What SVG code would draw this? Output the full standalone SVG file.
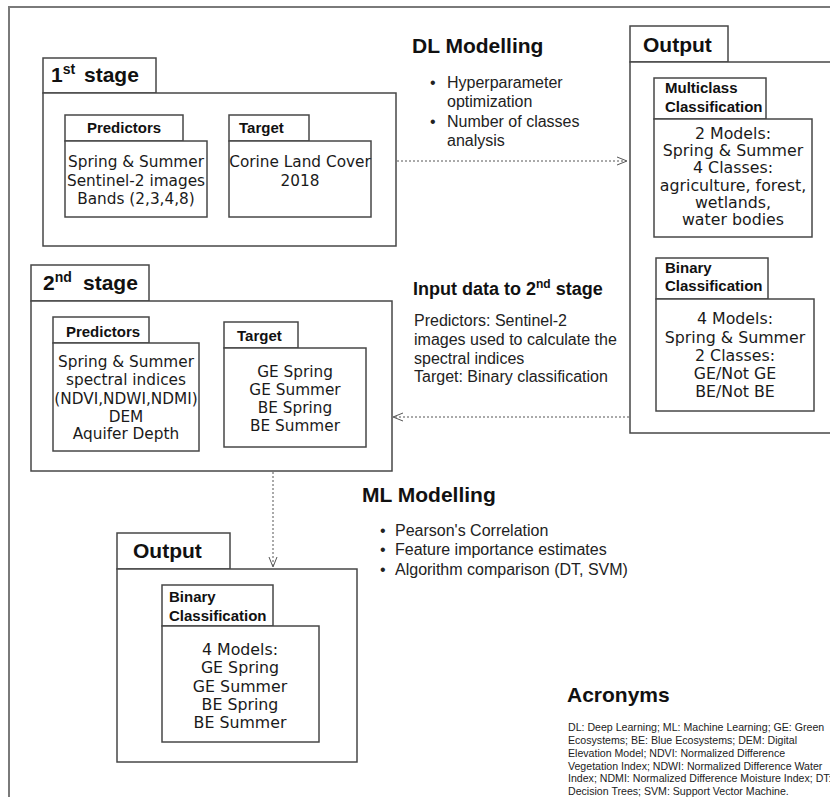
<svg xmlns="http://www.w3.org/2000/svg" width="830" height="797" viewBox="0 0 830 797">
<defs>
<style>
.frame{fill:none;stroke:#7a7a7a;stroke-width:2}
.box{fill:#fff;stroke:#474747;stroke-width:1.5}
.h{font-family:"Liberation Sans",Arial,sans-serif;font-weight:bold;font-size:21px;fill:#111}
.tab{font-family:"Liberation Sans",Arial,sans-serif;font-weight:bold;font-size:15px;fill:#111}
.bt{font-family:"DejaVu Sans",Verdana,sans-serif;font-size:15.3px;fill:#1a1a1a;text-anchor:middle}
.ot{font-family:"DejaVu Sans",Verdana,sans-serif;font-size:15.8px;fill:#1a1a1a;text-anchor:middle}
.p{font-family:"Liberation Sans",Arial,sans-serif;font-size:16px;fill:#222}
.sub{font-family:"Liberation Sans",Arial,sans-serif;font-weight:bold;font-size:18px;fill:#111}
.ac{font-family:"Liberation Sans",Arial,sans-serif;font-size:10.6px;fill:#222}
.dash{fill:none;stroke:#555;stroke-width:1;stroke-dasharray:2,2}
.head{fill:none;stroke:#555;stroke-width:1}
</style>
</defs>
<rect x="0" y="0" width="830" height="797" fill="#fff"/>
<rect class="frame" x="9" y="7" width="840" height="810"/>

<g id="stage1">
<rect class="box" x="43" y="58" width="113" height="35"/>
<rect class="box" x="43" y="93" width="353" height="153"/>
<text class="h" x="51" y="82">1<tspan font-size="14" dy="-8">st</tspan><tspan x="84" dy="8">stage</tspan></text>
</g>
<g id="s1-predictors">
<rect class="box" x="65" y="115" width="118" height="26"/>
<rect class="box" x="65" y="141" width="142" height="76"/>
<text class="tab" x="124" y="133" text-anchor="middle">Predictors</text>
<text class="bt" x="136" y="167">Spring &amp; Summer</text>
<text class="bt" x="136" y="186">Sentinel-2 images</text>
<text class="bt" x="136" y="204">Bands (2,3,4,8)</text>
</g>
<g id="s1-target">
<rect class="box" x="229" y="115" width="80" height="26"/>
<rect class="box" x="229" y="141" width="142" height="76"/>
<text class="tab" x="239" y="133">Target</text>
<text class="bt" x="300" y="167">Corine Land Cover</text>
<text class="bt" x="300" y="186">2018</text>
</g>

<g id="dl-modelling">
<text class="h" x="412" y="53">DL Modelling</text>
<text class="p" x="430" y="88">•</text><text class="p" x="447" y="88">Hyperparameter</text>
<text class="p" x="447" y="107">optimization</text>
<text class="p" x="430" y="127">•</text><text class="p" x="447" y="127">Number of classes</text>
<text class="p" x="447" y="146">analysis</text>
</g>

<g id="output1">
<rect class="box" x="630" y="26" width="98" height="36"/>
<rect class="box" x="630" y="62" width="220" height="371"/>
<text class="h" x="643" y="52">Output</text>
</g>
<g id="multiclass">
<rect class="box" x="654" y="78" width="112" height="41"/>
<rect class="box" x="654" y="119" width="158" height="118"/>
<text class="tab" x="665" y="93">Multiclass</text>
<text class="tab" x="665" y="112">Classification</text>
<text class="ot" x="733" y="139">2 Models:</text>
<text class="ot" x="733" y="156">Spring &amp; Summer</text>
<text class="ot" x="733" y="173">4 Classes:</text>
<text class="ot" x="733" y="191">agriculture, forest,</text>
<text class="ot" x="733" y="208">wetlands,</text>
<text class="ot" x="733" y="225">water bodies</text>
</g>
<g id="binary1">
<rect class="box" x="656" y="258" width="112" height="41"/>
<rect class="box" x="656" y="299" width="158" height="112"/>
<text class="tab" x="665" y="273">Binary</text>
<text class="tab" x="665" y="291">Classification</text>
<text class="ot" x="735" y="324">4 Models:</text>
<text class="ot" x="735" y="343">Spring &amp; Summer</text>
<text class="ot" x="735" y="361">2 Classes:</text>
<text class="ot" x="735" y="379">GE/Not GE</text>
<text class="ot" x="735" y="397">BE/Not BE</text>
</g>

<g id="input-data">
<text class="sub" x="413" y="295">Input data to 2<tspan font-size="12" dy="-7">nd</tspan><tspan dy="7"> stage</tspan></text>
<text class="p" x="414" y="326">Predictors: Sentinel-2</text>
<text class="p" x="414" y="345">images used to calculate the</text>
<text class="p" x="414" y="364">spectral indices</text>
<text class="p" x="414" y="382">Target: Binary classification</text>
</g>

<g id="stage2">
<rect class="box" x="31" y="265" width="118" height="36"/>
<rect class="box" x="31" y="301" width="361" height="170"/>
<text class="h" x="43" y="290">2<tspan font-size="14" dy="-8">nd</tspan><tspan x="83" dy="8">stage</tspan></text>
</g>
<g id="s2-predictors">
<rect class="box" x="53" y="317" width="96" height="26"/>
<rect class="box" x="53" y="343" width="146" height="108"/>
<text class="tab" x="103" y="337" text-anchor="middle">Predictors</text>
<text class="bt" x="126" y="367">Spring &amp; Summer</text>
<text class="bt" x="126" y="385">spectral indices</text>
<text class="bt" x="126" y="404">(NDVI,NDWI,NDMI)</text>
<text class="bt" x="126" y="422">DEM</text>
<text class="bt" x="126" y="439">Aquifer Depth</text>
</g>
<g id="s2-target">
<rect class="box" x="224" y="322" width="74" height="26"/>
<rect class="box" x="224" y="348" width="142" height="99"/>
<text class="tab" x="237" y="341">Target</text>
<text class="bt" x="295" y="377">GE Spring</text>
<text class="bt" x="295" y="395">GE Summer</text>
<text class="bt" x="295" y="413">BE Spring</text>
<text class="bt" x="295" y="431">BE Summer</text>
</g>

<g id="ml-modelling">
<text class="h" x="362" y="502">ML Modelling</text>
<text class="p" x="380" y="536">•</text><text class="p" x="395" y="536">Pearson's Correlation</text>
<text class="p" x="380" y="555">•</text><text class="p" x="395" y="555">Feature importance estimates</text>
<text class="p" x="380" y="575">•</text><text class="p" x="395" y="575">Algorithm comparison (DT, SVM)</text>
</g>

<g id="output2">
<rect class="box" x="117" y="533" width="113" height="36"/>
<rect class="box" x="117" y="569" width="240" height="193"/>
<text class="h" x="133" y="558">Output</text>
</g>
<g id="binary2">
<rect class="box" x="162" y="585" width="111" height="41"/>
<rect class="box" x="162" y="626" width="157" height="116"/>
<text class="tab" x="169" y="602">Binary</text>
<text class="tab" x="169" y="621">Classification</text>
<text class="ot" x="240" y="655">4 Models:</text>
<text class="ot" x="240" y="673">GE Spring</text>
<text class="ot" x="240" y="692">GE Summer</text>
<text class="ot" x="240" y="710">BE Spring</text>
<text class="ot" x="240" y="728">BE Summer</text>
</g>

<g id="acronyms">
<text class="h" x="567" y="702">Acronyms</text>
<text class="ac" x="568" y="731">DL: Deep Learning; ML: Machine Learning; GE: Green</text>
<text class="ac" x="568" y="744">Ecosystems; BE: Blue Ecosystems; DEM: Digital</text>
<text class="ac" x="568" y="757">Elevation Model; NDVI: Normalized Difference</text>
<text class="ac" x="568" y="770">Vegetation Index; NDWI: Normalized Difference Water</text>
<text class="ac" x="568" y="782">Index; NDMI: Normalized Difference Moisture Index; DT:</text>
<text class="ac" x="568" y="795">Decision Trees; SVM: Support Vector Machine.</text>
</g>

<g id="connectors">
<line class="dash" x1="397" y1="161" x2="626" y2="161"/>
<polyline class="head" points="617,157 627,161 617,165"/>
<line class="dash" x1="629" y1="417" x2="394" y2="417"/>
<polyline class="head" points="403,413 393,417 403,421"/>
<line class="dash" x1="273" y1="472" x2="273" y2="566"/>
<polyline class="head" points="269,557 273,567 277,557"/>
</g>
</svg>
